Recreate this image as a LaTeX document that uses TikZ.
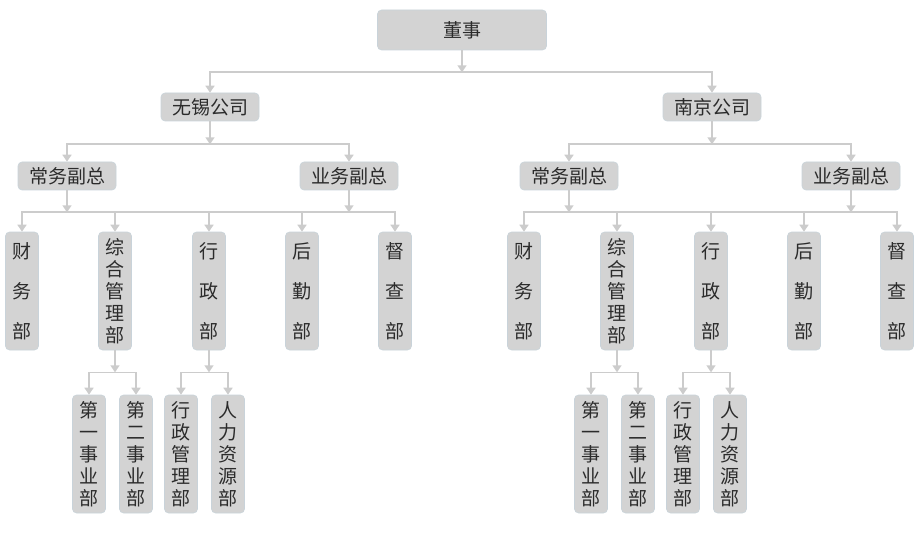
\documentclass[tikz,border=0pt]{standalone}
\usepackage{fontspec}
\setmainfont{Noto Sans CJK SC}
\usepackage{xcolor}
\usepackage{tikz}
\usetikzlibrary{arrows.meta,positioning,calc}

\definecolor{boxgray}{HTML}{D3D3D3}
\definecolor{boxedge}{HTML}{C9D3DA}
\definecolor{linkgray}{HTML}{CCCCCC}
\definecolor{txt}{HTML}{2B2B2B}

\begin{document}
\begin{tikzpicture}[>={Triangle[width=9pt,length=7pt]}, x=1pt, y=-1pt,
  box/.style={draw=boxedge, line width=0.6pt, fill=boxgray, rounded corners=4pt,
    text=txt, inner sep=0pt, font=\fontsize{19}{22}\selectfont},
  wide/.style={box, minimum width=98pt, minimum height=28pt},
  tall/.style={box, minimum width=33pt, minimum height=118pt, align=center},
  loose/.style={tall, font=\fontsize{19}{40}\selectfont},
  link/.style={draw=linkgray, line width=1.6pt, ->}]
  \useasboundingbox (0,0) rectangle (918,540);
  \node[box, minimum width=169pt, minimum height=40pt] (ds) at (462,30) {董事};
  % both companies share one layout, the second one shifted right
  \foreach \co/\dx/\lbl in {wx/0/无锡公司, nj/502/南京公司} {
    \begin{scope}[xshift=\dx pt]
      \node[wide] (\co) at (210,107) {\lbl};
      \node[wide] (\co-cw) at (67,176) {常务副总};
      \node[wide] (\co-yw) at (349,176) {业务副总};
      \node[loose] (\co-cwb) at (22,291) {财\\务\\部};
      \node[tall] (\co-zh) at (115,291) {综\\合\\管\\理\\部};
      \node[loose] (\co-xz) at (209,291) {行\\政\\部};
      \node[loose] (\co-hq) at (302,291) {后\\勤\\部};
      \node[loose] (\co-dc) at (395,291) {督\\查\\部};
      \node[tall] (\co-s1) at (89,454) {第\\一\\事\\业\\部};
      \node[tall] (\co-s2) at (136,454) {第\\二\\事\\业\\部};
      \node[tall] (\co-s3) at (181,454) {行\\政\\管\\理\\部};
      \node[tall] (\co-s4) at (228,454) {人\\力\\资\\源\\部};
    \end{scope}
    % junctions on the bus lines
    \coordinate (\co-j1) at ($(\co.south)+(0,23)$);
    \coordinate (\co-j2) at ($(\co-cw.south)+(0,22)$);
    \coordinate (\co-j3) at ($(\co-yw.south)+(0,22)$);
    \coordinate (\co-j4) at ($(\co-zh.south)+(0,22)$);
    \coordinate (\co-j5) at ($(\co-xz.south)+(0,22)$);
    \draw[link] (\co) -- (\co-j1);
    \draw[link] (\co-j1) -| (\co-cw);
    \draw[link] (\co-j1) -| (\co-yw);
    \draw[link] (\co-cw) -- (\co-j2);
    \draw[link] (\co-yw) -- (\co-j3);
    \draw[link, -] (\co-j2) -- (\co-j3);
    \draw[link] (\co-j2) -| (\co-cwb);
    \draw[link] (\co-j2) -| (\co-zh);
    \draw[link] (\co-j2) -| (\co-xz);
    \draw[link] (\co-j3) -| (\co-hq);
    \draw[link] (\co-j3) -| (\co-dc);
    \draw[link] (\co-zh) -- (\co-j4);
    \draw[link] (\co-j4) -| (\co-s1);
    \draw[link] (\co-j4) -| (\co-s2);
    \draw[link] (\co-xz) -- (\co-j5);
    \draw[link] (\co-j5) -| (\co-s3);
    \draw[link] (\co-j5) -| (\co-s4);
  }
  \coordinate (j0) at ($(ds.south)+(0,22)$);
  \draw[link] (ds) -- (j0);
  \draw[link] (j0) -| (wx);
  \draw[link] (j0) -| (nj);
\end{tikzpicture}
\end{document}
